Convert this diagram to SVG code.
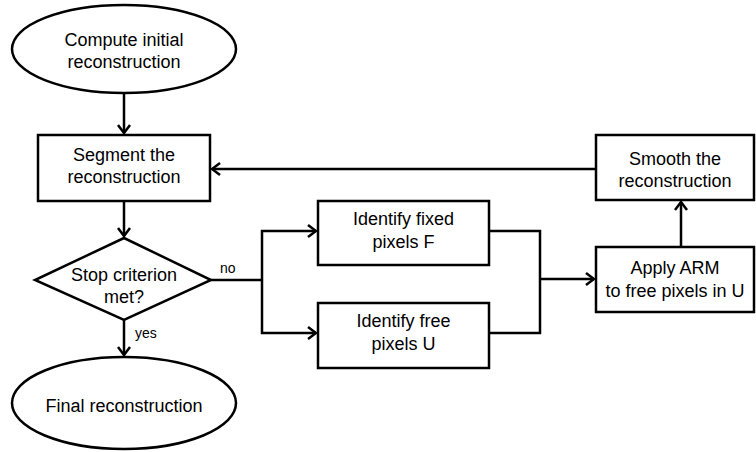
<svg xmlns="http://www.w3.org/2000/svg" width="756" height="452" viewBox="0 0 756 452">
  <style>
    .shape { fill: #fff; stroke: #000; stroke-width: 2.5; }
    .link { fill: none; stroke: #000; stroke-width: 2.5; }
    text { font-family: "Liberation Sans", Arial, sans-serif; font-size: 18px; fill: #000; text-anchor: middle; }
    .lbl { font-size: 14px; text-anchor: start; }
  </style>
  <defs>
    <marker id="arrow" viewBox="-10 -8 12 16" markerWidth="12" markerHeight="16" refX="0" refY="0" orient="auto" markerUnits="userSpaceOnUse">
      <path d="M-8,-6 L0,0 L-8,6" fill="none" stroke="#000" stroke-width="2.5"/>
    </marker>
  </defs>

  <g id="connectors">
    <line class="link" x1="124" y1="93" x2="124" y2="133" marker-end="url(#arrow)"/>
    <line class="link" x1="124" y1="201" x2="124" y2="236" marker-end="url(#arrow)"/>
    <line class="link" x1="124" y1="320" x2="124" y2="355" marker-end="url(#arrow)"/>
    <polyline class="link" points="211,280 262,280"/>
    <polyline class="link" points="262,280 262,231 316,231" marker-end="url(#arrow)"/>
    <polyline class="link" points="262,280 262,333 316,333" marker-end="url(#arrow)"/>
    <polyline class="link" points="489,231 540,231 540,333 489,333"/>
    <line class="link" x1="540" y1="279" x2="594" y2="279" marker-end="url(#arrow)"/>
    <line class="link" x1="681" y1="247" x2="681" y2="202" marker-end="url(#arrow)"/>
    <line class="link" x1="596" y1="169" x2="212" y2="169" marker-end="url(#arrow)"/>
    <text class="lbl" x="220" y="273">no</text>
    <text class="lbl" x="135" y="338">yes</text>
  </g>

  <g id="start">
    <ellipse class="shape" cx="124" cy="49" rx="112" ry="44"/>
    <text x="124" y="46">Compute initial</text>
    <text x="124" y="68">reconstruction</text>
  </g>

  <g id="segment">
    <rect class="shape" x="38" y="135" width="172" height="66"/>
    <text x="124" y="161">Segment the</text>
    <text x="124" y="183">reconstruction</text>
  </g>

  <g id="stop">
    <polygon class="shape" points="124,238 211,280 124,320 35,280"/>
    <text x="124" y="281">Stop criterion</text>
    <text x="124" y="303">met?</text>
  </g>

  <g id="final">
    <ellipse class="shape" cx="124" cy="403" rx="112" ry="46"/>
    <text x="124" y="412">Final reconstruction</text>
  </g>

  <g id="fixed">
    <rect class="shape" x="318" y="201" width="171" height="64"/>
    <text x="403.5" y="225">Identify fixed</text>
    <text x="403.5" y="248">pixels F</text>
  </g>

  <g id="free">
    <rect class="shape" x="318" y="303" width="171" height="65"/>
    <text x="403.5" y="327">Identify free</text>
    <text x="403.5" y="350">pixels U</text>
  </g>

  <g id="arm">
    <rect class="shape" x="596" y="247" width="158" height="65"/>
    <text x="675" y="274">Apply ARM</text>
    <text x="675" y="297">to free pixels in U</text>
  </g>

  <g id="smooth">
    <rect class="shape" x="596" y="135" width="158" height="65"/>
    <text x="675" y="165">Smooth the</text>
    <text x="675" y="187">reconstruction</text>
  </g>
</svg>
